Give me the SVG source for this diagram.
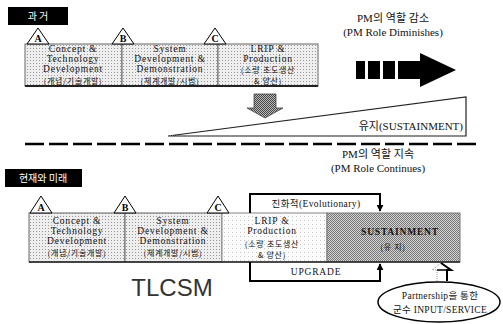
<svg xmlns="http://www.w3.org/2000/svg" width="503" height="324" viewBox="0 0 503 324">
<defs>
<pattern id="lt" width="3" height="3" patternUnits="userSpaceOnUse"><rect width="3" height="3" fill="#eeeeee"/><rect width="1" height="1" fill="#999"/></pattern>
<pattern id="wt" width="4" height="4" patternUnits="userSpaceOnUse"><rect width="4" height="4" fill="#fbfbfb"/><rect width="1" height="1" fill="#c8c8c8"/></pattern>
<pattern id="dk" width="2" height="2" patternUnits="userSpaceOnUse"><rect width="2" height="2" fill="#d4d4d4"/><rect width="1" height="1" fill="#787878"/><rect x="1" y="1" width="1" height="1" fill="#787878"/></pattern>
<pattern id="dd" width="2" height="2" patternUnits="userSpaceOnUse"><rect width="2" height="2" fill="#bbb"/><rect width="1" height="1" fill="#444"/><rect x="1" y="1" width="1" height="1" fill="#444"/></pattern>
<marker id="ah" viewBox="0 0 10 10" refX="9" refY="5" markerWidth="3.5" markerHeight="3.5" orient="auto"><path d="M0,0 L10,5 L0,10 z" fill="#000"/></marker>
</defs>
<style>
.t{font-family:"Liberation Serif","Noto Sans CJK KR",serif;font-size:9.5px;letter-spacing:0.8px;fill:#111;text-anchor:middle}
.k{font-family:"Noto Sans CJK KR","Liberation Serif",sans-serif;font-size:8px;letter-spacing:0.7px}
.lbl{font-family:"Noto Sans CJK KR",sans-serif;font-size:10px;fill:#fff;text-anchor:middle}
.box{fill:url(#lt);stroke:#666;stroke-width:1}
.tri{fill:#fff;stroke:#000;stroke-width:1}
.tl{font-family:"Liberation Serif",serif;font-size:10px;font-weight:bold;text-anchor:middle;fill:#000}
.ln{fill:none;stroke:#000;stroke-width:2}
.hd{font-family:"Liberation Serif","Noto Sans CJK KR",serif;font-size:11px;fill:#111;text-anchor:middle}
</style>

<!-- PAST -->
<g id="past-label"><rect x="8" y="7" width="60" height="18" fill="#000"/><text x="38" y="20" class="lbl">과   거</text></g>
<g id="past-role"><text x="393" y="22" class="hd">PM의 역할 감소</text><text x="393" y="36" class="hd">(PM Role Diminishes)</text></g>

<g id="past-cd"><rect x="25" y="44" width="97" height="42" class="box"/>
<text x="73" y="52" class="t">Concept &amp;</text><text x="73" y="62" class="t">Technology</text><text x="73" y="72" class="t">Development</text><text x="73" y="84" class="t k">(개념/기술개발)</text></g>
<g id="past-sdd"><rect x="122" y="44" width="96" height="42" class="box"/>
<text x="170" y="52" class="t">System</text><text x="170" y="62" class="t">Development &amp;</text><text x="170" y="72" class="t">Demonstration</text><text x="170" y="84" class="t k">(체계개발/시범)</text></g>
<g id="past-lrip"><rect x="218" y="44" width="100" height="42" class="box"/>
<text x="268" y="52" class="t">LRIP &amp;</text><text x="268" y="61.5" class="t">Production</text><text x="268" y="73" class="t k">(소량 초도생산</text><text x="268" y="84" class="t k">&amp; 양산)</text></g>
<line x1="25" y1="86" x2="318" y2="86" stroke="#222" stroke-width="2"/>
<g id="past-A"><polygon points="27,44 38,28 49,44" class="tri"/><text x="38" y="42" class="tl">A</text></g>
<g id="past-B"><polygon points="112,44 123,28 134,44" class="tri"/><text x="123" y="42" class="tl">B</text></g>
<g id="past-C"><polygon points="204,44 215,28 226,44" class="tri"/><text x="215" y="42" class="tl">C</text></g>

<g id="past-arrow">
<rect x="356" y="61" width="9" height="18" fill="#000"/>
<rect x="368" y="61" width="12" height="18" fill="#000"/>
<rect x="383" y="61" width="12" height="18" fill="#000"/>
<polygon points="398,61 420,61 420,53 456,70 420,87 420,79 398,79" fill="#000"/>
</g>
<g id="down-arrow"><polygon points="254,94 276,94 276,108 283,108 265,118 247,108 254,108" fill="url(#dd)" stroke="#444" stroke-width="0.8"/></g>
<g id="sustainment-wedge"><polygon points="168,136 466,97 466,136" fill="#fff" stroke="#222" stroke-width="1.2"/>
<line x1="168" y1="136" x2="466" y2="136" stroke="#888" stroke-width="1.5" stroke-dasharray="1 1"/>
<text x="463" y="130" class="hd" style="text-anchor:end">유지(SUSTAINMENT)</text></g>

<line x1="25" y1="144" x2="478" y2="144" stroke="#000" stroke-width="2.5" stroke-dasharray="19 5"/>

<!-- PRESENT -->
<g id="present-label"><rect x="5" y="169" width="77" height="18" fill="#000"/><text x="43" y="182" class="lbl">현재와 미래</text></g>
<g id="present-role"><text x="378" y="158" class="hd">PM의 역할 지속</text><text x="378" y="172" class="hd">(PM Role Continues)</text></g>

<g id="cd"><rect x="29" y="213" width="96" height="49" class="box"/>
<text x="77" y="224" class="t">Concept &amp;</text><text x="77" y="234" class="t">Technology</text><text x="77" y="244" class="t">Development</text><text x="77" y="256" class="t k">(개념/기술개발)</text></g>
<g id="sdd"><rect x="125" y="213" width="97" height="49" class="box"/>
<text x="173" y="224" class="t">System</text><text x="173" y="234" class="t">Development &amp;</text><text x="173" y="244" class="t">Demonstration</text><text x="173" y="256" class="t k">(체계개발/시범)</text></g>
<g id="lrip"><rect x="222" y="213" width="105" height="49" fill="url(#wt)" stroke="#888" stroke-width="1"/>
<text x="272" y="224" class="t">LRIP &amp;</text><text x="272" y="234" class="t">Production</text><text x="272" y="246.5" class="t k">(소량 초도생산</text><text x="272" y="258" class="t k">&amp; 양산)</text></g>
<g id="sustainment"><rect x="327" y="213" width="133" height="49" fill="url(#dk)" stroke="#777" stroke-width="1"/>
<text x="400" y="235" class="t" style="font-weight:bold">SUSTAINMENT</text><text x="393" y="250" class="t k">(유 지)</text></g>
<line x1="29" y1="262" x2="460" y2="262" stroke="#222" stroke-width="1.5"/>
<g id="A"><polygon points="30,213 41,196 52,213" class="tri"/><text x="41" y="211" class="tl">A</text></g>
<g id="B"><polygon points="114,213 125,196 136,213" class="tri"/><text x="125" y="211" class="tl">B</text></g>
<g id="C"><polygon points="207,213 218,196 229,213" class="tri"/><text x="218" y="211" class="tl">C</text></g>

<g id="tlcsm"><text x="172" y="296" font-family="Liberation Sans, Arial, sans-serif" font-size="24" fill="#333" text-anchor="middle">TLCSM</text></g>

<g id="partnership"><ellipse cx="439" cy="302" rx="61" ry="20" fill="#fff" stroke="#000" stroke-width="1.5"/>
<text x="440" y="299" class="t" style="letter-spacing:0.3px">Partnership을 통한</text><text x="440" y="313" class="t" style="letter-spacing:0.3px">군수 INPUT/SERVICE</text></g>

<g id="connectors">
<path d="M250,213 V194 H380 V211" class="ln" marker-end="url(#ah)"/>
<text x="316" y="207" class="t" style="letter-spacing:0.4px">진화적(Evolutionary)</text>
<path d="M250,262 V281 H380 V264" class="ln" marker-end="url(#ah)"/>
<text x="316" y="275" class="t">UPGRADE</text>
<polyline points="437,281 437,270 432,270 441,263" fill="none" stroke="#999" stroke-width="1" stroke-dasharray="1 1"/>
<polyline points="441,263 451,270 447,270 447,281" fill="none" stroke="#000" stroke-width="2"/>
<line x1="437" y1="270" x2="447" y2="270" stroke="#000" stroke-width="1.5"/>
</g>
</svg>
